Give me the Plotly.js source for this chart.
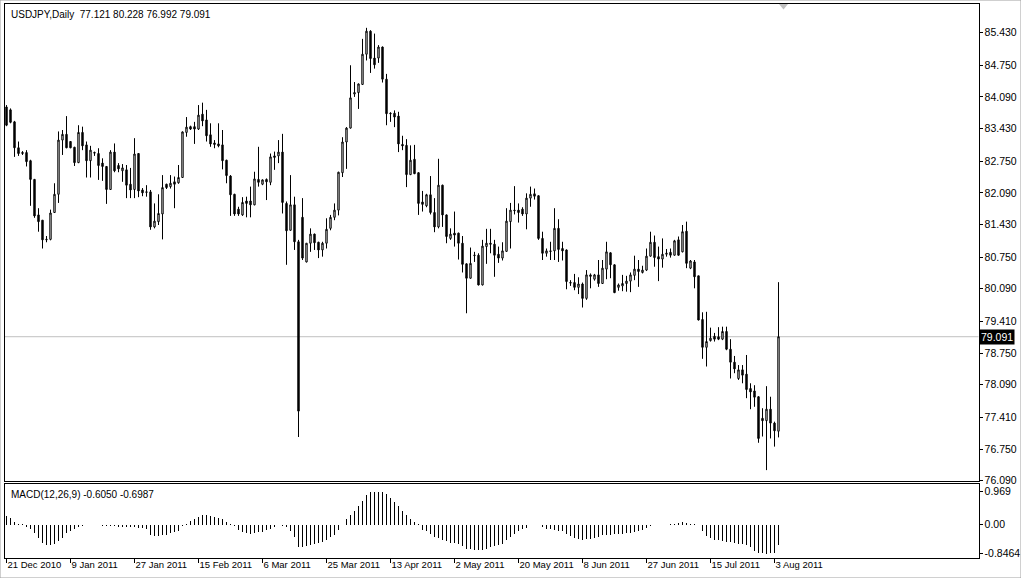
<!DOCTYPE html>
<html><head><meta charset="utf-8">
<script src="https://cdn.plot.ly/plotly-3.0.1.min.js"></script>
<style>html,body{margin:0;padding:0;background:#fff;overflow:hidden}#chart{width:1021px;height:578px}</style>
</head><body><div id="chart"></div>
<script>
// ---- data ----
const symbolTitle = 'USDJPY,Daily';
const tickLabels = ['21 Dec 2010','9 Jan 2011','27 Jan 2011','15 Feb 2011','6 Mar 2011','25 Mar 2011','13 Apr 2011','2 May 2011','20 May 2011','8 Jun 2011','27 Jun 2011','15 Jul 2011','3 Aug 2011'];
const barsPerLabel = 16;
const priceTicks = [85.43,84.75,84.09,83.43,82.75,82.09,81.43,80.75,80.09,79.41,78.75,78.09,77.41,76.75,76.09];
const macdTicks = [0.969,0.0,-0.8464];
const macdTickText = ['0.969','0.00','-0.8464'];
const lastPrice = 79.091;
const macdMain = -0.6050, macdSignal = -0.6987;

const open = [83.88,83.82,83.57,83.03,82.91,82.93,82.76,82.37,81.63,81.52,
81.11,81.12,81.68,82.06,83.19,83.31,83.16,83.04,82.72,83.35,
83.09,82.76,82.93,82.91,82.71,82.64,82.16,82.94,82.66,82.55,
82.57,82.27,82.16,82.91,82.15,82.10,82.11,81.38,81.49,81.65,
82.27,82.22,82.32,82.30,82.41,83.35,83.47,83.47,83.42,83.73,
83.61,83.30,83.13,83.11,83.09,82.77,82.44,82.06,81.75,81.63,
81.92,81.92,81.84,82.37,82.27,82.37,82.31,82.86,82.86,82.94,
81.87,81.31,81.84,81.07,81.58,80.65,81.04,81.23,81.06,80.90,
81.04,81.35,81.58,81.73,82.51,83.15,83.44,84.15,84.18,84.35,
84.98,85.46,84.90,84.90,85.13,84.46,83.75,83.75,83.69,83.10,
83.08,82.47,82.79,82.51,81.90,81.82,82.05,81.68,81.38,82.25,
81.63,81.14,81.25,81.25,81.04,80.61,80.31,80.78,80.79,80.17,
80.97,81.04,81.02,80.81,80.73,80.87,81.49,81.73,81.73,81.75,
81.65,81.98,82.07,82.03,81.14,80.83,80.88,80.88,81.35,80.93,
80.90,80.22,80.22,80.12,80.19,79.89,80.38,80.29,80.38,80.20,
80.50,80.84,80.59,80.12,80.15,80.20,80.25,80.37,80.50,80.43,
80.48,80.77,81.06,80.76,80.71,80.81,80.85,80.79,81.11,80.86,
81.29,80.52,80.65,80.36,79.45,78.87,79.01,79.10,79.09,79.04,
79.20,78.83,78.56,78.22,78.40,78.31,78.01,77.96,77.84,77.39,
77.34,77.58,77.29,77.121];
const high = [83.92,83.85,83.59,83.16,82.96,82.98,82.78,82.38,81.77,81.52,
81.19,81.74,82.29,83.37,83.40,83.69,83.17,83.05,83.50,83.47,
83.16,83.07,82.95,83.02,82.81,82.65,82.98,83.12,82.71,82.69,
82.67,82.61,83.23,82.92,82.19,82.25,82.15,81.87,82.06,82.46,
82.28,82.46,82.43,82.67,83.37,83.67,83.49,83.57,83.92,83.97,
83.82,83.54,83.19,83.54,83.40,82.78,82.46,82.07,81.80,82.00,
82.01,82.22,82.53,83.05,82.37,82.39,82.91,82.95,83.19,83.32,
81.91,82.46,82.01,81.11,81.98,81.04,81.35,81.24,81.07,81.07,
81.56,81.63,81.87,82.53,83.25,83.46,84.75,84.40,84.37,85.30,
85.53,85.48,85.41,85.17,85.14,84.57,83.77,83.81,83.78,83.28,
83.21,83.08,83.09,82.52,82.13,82.07,82.44,81.98,82.80,82.26,
81.64,81.35,81.70,81.26,81.19,80.62,80.95,80.86,80.83,81.11,
81.34,81.34,81.11,80.97,81.06,81.77,81.88,82.23,81.87,81.79,
82.08,82.22,82.18,82.04,81.28,80.93,81.07,81.77,81.54,81.07,
80.91,80.27,80.40,80.33,80.22,80.48,80.41,80.40,80.69,80.69,
81.07,80.85,80.60,80.20,80.38,80.36,80.43,80.78,80.69,80.57,
80.93,81.28,81.20,80.97,81.14,80.92,80.93,81.11,81.18,81.42,
81.49,80.69,80.69,80.36,79.60,79.61,79.28,79.17,79.29,79.30,
79.30,79.04,78.69,78.50,78.50,78.71,78.12,78.08,77.85,77.60,
78.06,77.84,77.32,80.228];
const low = [83.48,83.54,82.84,82.86,82.88,82.64,81.82,81.57,81.28,80.93,
81.06,81.10,81.67,81.88,82.88,83.02,83.02,82.65,82.71,82.98,
82.41,82.41,82.86,82.36,82.34,81.86,82.15,82.52,82.52,82.32,
81.98,81.98,81.98,82.00,82.02,82.01,81.32,81.35,81.42,81.12,
82.17,82.18,81.77,82.28,82.40,83.26,83.40,83.11,83.40,83.48,
83.16,83.05,83.02,83.04,82.58,82.29,81.61,81.61,81.61,81.61,
81.58,81.58,81.83,82.22,82.25,81.94,82.25,82.57,82.71,81.66,
80.59,81.30,80.90,77.00,80.69,80.64,80.86,80.90,80.73,80.76,
80.93,81.31,81.52,81.62,82.42,82.59,83.43,84.09,83.84,84.34,
84.85,84.59,84.68,84.80,84.39,83.50,83.57,83.46,82.94,82.98,
82.21,82.46,82.48,81.63,81.70,81.79,81.64,81.27,81.35,81.38,
81.04,81.11,80.97,80.70,80.43,79.58,80.30,80.65,80.16,80.16,
80.61,80.83,80.34,80.63,80.68,80.86,80.93,81.64,81.47,81.61,
81.33,81.80,81.95,81.11,80.69,80.76,80.69,80.69,80.65,80.68,
80.08,80.15,80.06,79.98,79.70,79.86,80.10,80.26,80.13,80.19,
80.29,80.31,80.00,80.05,80.04,80.03,80.02,80.27,80.13,80.41,
80.46,80.76,80.55,80.25,80.53,80.76,80.74,80.78,80.78,80.85,
80.52,80.50,80.10,79.43,78.63,78.47,78.99,78.99,79.02,79.02,
78.81,78.22,78.33,78.19,78.12,77.81,77.58,77.63,76.88,77.01,
76.31,76.97,76.80,76.992];
const close = [83.50,83.56,83.03,82.91,82.93,82.74,82.37,81.61,81.49,81.11,
81.12,81.67,82.06,83.19,83.31,83.03,83.03,82.72,83.35,83.07,
82.76,82.98,82.92,82.66,82.64,82.16,82.94,82.55,82.59,82.61,
82.25,82.15,82.90,82.13,82.09,82.11,81.38,81.50,81.66,82.20,
82.20,82.29,82.27,82.41,83.36,83.46,83.42,83.42,83.71,83.59,
83.28,83.11,83.10,83.07,82.76,82.45,82.05,81.65,81.65,81.89,
81.87,81.84,82.38,82.31,82.36,82.32,82.84,82.83,82.94,81.89,
81.30,81.84,81.07,77.54,80.73,81.04,81.23,81.05,80.90,81.04,
81.33,81.58,81.73,82.52,83.15,83.44,84.07,84.18,84.36,84.98,
85.46,84.89,84.76,85.13,84.46,83.74,83.74,83.67,83.11,83.07,
82.47,82.77,82.49,81.87,81.85,82.05,81.68,81.38,82.25,81.63,
81.18,81.23,81.21,81.04,80.60,80.31,80.62,80.79,80.17,80.98,
81.04,81.02,80.79,80.73,80.88,81.50,81.73,81.72,81.68,81.65,
81.98,82.06,82.02,81.14,80.83,80.88,80.87,81.35,80.91,80.88,
80.24,80.21,80.12,80.19,79.89,80.38,80.35,80.38,80.20,80.52,
80.86,80.59,80.01,80.17,80.20,80.25,80.38,80.50,80.45,80.48,
80.77,81.06,80.74,80.71,80.81,80.83,80.79,81.09,80.79,81.28,
80.62,80.67,80.34,79.44,78.87,78.99,79.06,79.04,79.04,79.20,
78.83,78.56,78.42,78.40,78.29,77.99,77.94,77.83,76.97,77.34,
77.58,77.29,77.13,79.091];
const macd = [0.25,0.2,0.09,0.03,0.005,-0.06,-0.12,-0.26,-0.38,-0.54,
-0.6,-0.6,-0.58,-0.48,-0.38,-0.26,-0.19,-0.14,-0.08,-0.03,
-0.02,-0.02,0.0,-0.02,-0.03,-0.03,-0.04,-0.05,-0.06,-0.06,
-0.06,-0.07,-0.08,-0.09,-0.1,-0.12,-0.31,-0.33,-0.33,-0.31,
-0.29,-0.26,-0.23,-0.18,-0.05,0.03,0.1,0.15,0.22,0.27,
0.27,0.25,0.23,0.2,0.15,0.08,0.03,-0.04,-0.15,-0.22,
-0.26,-0.28,-0.25,-0.23,-0.21,-0.17,-0.12,-0.06,0.0,-0.05,
-0.08,-0.2,-0.35,-0.67,-0.66,-0.63,-0.6,-0.56,-0.53,-0.5,
-0.44,-0.36,-0.3,-0.16,0.0,0.15,0.28,0.41,0.55,0.7,
0.88,0.96,0.969,0.96,0.95,0.9,0.78,0.66,0.53,0.4,
0.27,0.16,0.07,0.03,-0.15,-0.19,-0.28,-0.36,-0.4,-0.44,
-0.48,-0.53,-0.55,-0.58,-0.62,-0.7,-0.72,-0.74,-0.75,-0.73,
-0.7,-0.65,-0.62,-0.6,-0.56,-0.46,-0.36,-0.28,-0.2,-0.14,
-0.09,-0.01,-0.02,0.0,-0.07,-0.14,-0.14,-0.17,-0.19,-0.2,
-0.28,-0.34,-0.38,-0.42,-0.44,-0.43,-0.41,-0.38,-0.35,-0.31,
-0.3,-0.29,-0.28,-0.28,-0.28,-0.26,-0.24,-0.22,-0.19,-0.15,
-0.09,-0.04,-0.02,-0.02,-0.01,0.0,0.02,0.03,0.04,0.07,
0.05,0.03,0.02,-0.02,-0.2,-0.33,-0.4,-0.44,-0.46,-0.48,
-0.5,-0.52,-0.54,-0.56,-0.58,-0.6,-0.65,-0.77,-0.82,-0.84,
-0.8464,-0.84,-0.83,-0.605];

// ---- drawing ----
const W = 1021, H = 578;
const fx = p => p / W, fy = p => 1 - p / H;
const idx = open.map((_, i) => i);
const tickIdx = tickLabels.map((_, k) => k * barsPerLabel);
const FONT = 'Liberation Sans, Arial, sans-serif';
const last = open.length - 1;

const candles = {
  type: 'candlestick', x: idx, open: open, high: high, low: low, close: close,
  xaxis: 'x', yaxis: 'y', whiskerwidth: 0, hoverinfo: 'skip', showlegend: false,
  increasing: {line: {color: '#000', width: 1}, fillcolor: '#fff'},
  decreasing: {line: {color: '#000', width: 1}, fillcolor: '#000'}
};
const hist = {
  type: 'bar', x: idx, y: macd, xaxis: 'x2', yaxis: 'y2', width: 0.25,
  marker: {color: '#000', line: {width: 0}}, hoverinfo: 'skip', showlegend: false
};

const xDom = [fx(4.5), fx(978.5)];
const xRange = [-0.5, 243];
const frame = {showline: true, mirror: true, linecolor: '#000', linewidth: 1, showgrid: false, zeroline: false, fixedrange: true};
const tf = {family: FONT, size: 10.5, color: '#000'};
const tfx = {family: FONT, size: 9.5, color: '#000'};
const tfh = {family: FONT, size: 10, color: '#000'};

const layout = {
  width: W, height: H, margin: {l: 0, r: 0, t: 0, b: 0},
  paper_bgcolor: '#fff', plot_bgcolor: '#fff', showlegend: false, hovermode: false,
  boxgap: 0.5, bargap: 0,
  xaxis: Object.assign({}, frame, {domain: xDom, range: xRange, anchor: 'y', showticklabels: false, ticks: '', rangeslider: {visible: false}}),
  yaxis: Object.assign({}, frame, {domain: [fy(481), fy(4)], range: [76.083, 86.027], anchor: 'x', side: 'right',
    tickvals: priceTicks, ticktext: priceTicks.map(v => v.toFixed(3)), ticks: 'outside', ticklen: 3, tickcolor: '#000', tickfont: tf}),
  xaxis2: Object.assign({}, frame, {domain: xDom, range: xRange, anchor: 'y2', tickvals: tickIdx, ticktext: tickLabels,
    ticks: 'outside', ticklen: 4, tickcolor: '#000', ticklabelposition: 'outside right', tickangle: 0, ticklabelstandoff: -2, tickfont: tfx}),
  yaxis2: Object.assign({}, frame, {domain: [fy(558), fy(484)], range: [-0.9782, 1.1886], anchor: 'x2', side: 'right',
    tickvals: macdTicks, ticktext: macdTickText, ticks: 'outside', ticklen: 3, tickcolor: '#000', tickfont: tf}),
  shapes: [
    {type: 'line', xref: 'paper', yref: 'y', x0: xDom[0], x1: xDom[1], y0: lastPrice, y1: lastPrice, line: {color: '#c0c0c0', width: 1}, layer: 'below'},
    {type: 'path', xref: 'paper', yref: 'paper', path: 'M' + fx(779) + ',' + fy(4) + ' L' + fx(788) + ',' + fy(4) + ' L' + fx(783.5) + ',' + fy(9.5) + ' Z', fillcolor: '#c0c0c0', line: {width: 0}},
    {type: 'rect', xref: 'paper', yref: 'paper', x0: 0, x1: 1, y0: 0, y1: 1, line: {color: '#a0a0a0', width: 1}}
  ],
  annotations: [
    {xref: 'paper', yref: 'paper', x: fx(9), y: fy(14), xanchor: 'left', yanchor: 'middle', showarrow: false,
      text: symbolTitle + '  ' + [open[last], high[last], low[last], close[last]].map(v => v.toFixed(3)).join(' '), font: tfh},
    {xref: 'paper', yref: 'paper', x: fx(9), y: fy(494), xanchor: 'left', yanchor: 'middle', showarrow: false,
      text: 'MACD(12,26,9) ' + macdMain.toFixed(4) + ' ' + macdSignal.toFixed(4), font: tfh},
    {xref: 'paper', yref: 'y', x: fx(979), y: lastPrice, xanchor: 'left', yanchor: 'middle', showarrow: false,
      text: lastPrice.toFixed(3), bgcolor: '#000', borderpad: 1, font: {family: FONT, size: 10.5, color: '#fff'}}
  ]
};

Plotly.newPlot('chart', [candles, hist], layout, {staticPlot: true, displayModeBar: false});
</script>
</body></html>
